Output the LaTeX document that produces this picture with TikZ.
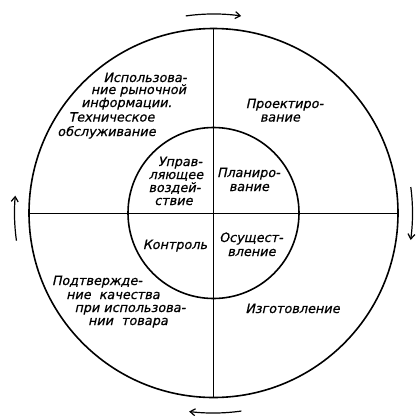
\documentclass[tikz,border=0pt]{standalone}
\usepackage{fontspec}
\newfontfamily\lblfont{DejaVu Sans}[FakeSlant=0.22,FakeBold=0.7]
\usetikzlibrary{arrows.meta}
\tikzset{
  ring/.style={circle,draw,line width=1.6pt,inner sep=0pt},
  divider/.style={line width=0.8pt},
  flow/.style={line width=1.2pt,-{Straight Barb[length=5pt,width=7pt]}},
  lbl/.style={inner sep=0pt,font=\lblfont\fontsize{12.8}{14}\selectfont,text height=9pt,text depth=3pt,anchor=center}
}
\begin{document}
\begin{tikzpicture}[x=1pt,y=-1pt]
\useasboundingbox (0,0) rectangle (416,416);
\coordinate (C) at (213.5,213);
\node[ring,minimum size=369pt] (outer) at (C) {};
\node[ring,minimum size=171pt] (inner) at (C) {};
\draw[divider] (outer.north) -- (outer.south);
\draw[divider] (outer.west) -- (outer.east);
% arrows around the ring (clockwise)
\draw[flow] ([shift={(98:199pt)}]C) arc[start angle=98,end angle=82,radius=199pt];
\draw[flow] ([shift={(7.5:199pt)}]C) arc[start angle=7.5,end angle=-7.8,radius=199pt];
\draw[flow] ([shift={(278:200pt)}]C) arc[start angle=278,end angle=263,radius=200pt];
\draw[flow] ([shift={(188:199pt)}]C) arc[start angle=188,end angle=175,radius=199pt];
% outer quadrant labels
\node[lbl] (t1) at (145,79) {Использова-};
\node[lbl] (t2) at (138.5,91) {ние рыночной};
\node[lbl] (t3) at (126.5,104) {информации.};
\node[lbl] (t4) at (111.5,118.5) {Техническое};
\node[lbl] (t5) at (106.5,133) {обслуживание};
\node[lbl] (p1) at (284.5,105) {Проектиро-};
\node[lbl] (p2) at (280,118.5) {вание};
\node[lbl] (q1) at (97,282) {Подтвержде-};
\node[lbl] (q2) at (113,296) {ние\ \ качества};
\node[lbl] (q3) at (130,309) {при использова-};
\node[lbl] (q4) at (128,322) {нии\ \ товара};
\node[lbl] (m1) at (292.5,310) {Изготовление};
% inner quadrant labels
\node[lbl] (u1) at (180,163) {Управ-};
\node[lbl] (u2) at (176,176) {ляющее};
\node[lbl] (u3) at (174.5,189) {воздей-};
\node[lbl] (u4) at (173.5,202) {ствие};
\node[lbl] (l1) at (248.5,174) {Планиро-};
\node[lbl] (l2) at (249,188) {вание};
\node[lbl] (k1) at (175,246) {Контроль};
\node[lbl] (o1) at (251,239) {Осущест-};
\node[lbl] (o2) at (251.5,253) {вление};
\end{tikzpicture}
\end{document}
